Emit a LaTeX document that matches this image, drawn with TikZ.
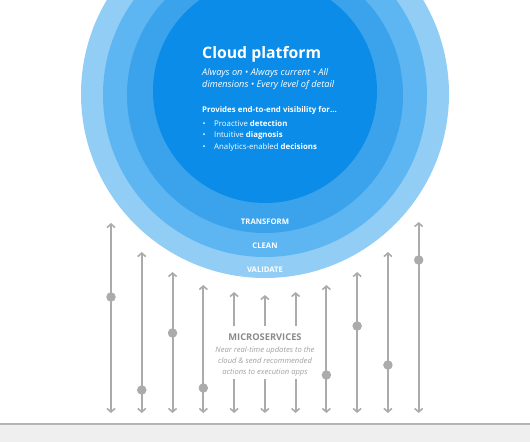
\documentclass[tikz,border=0pt]{standalone}
\usepackage{fontspec}
\setmainfont{Open Sans}
\usetikzlibrary{arrows.meta}
\definecolor{ringA}{HTML}{92CDF6}
\definecolor{ringB}{HTML}{5DB5F1}
\definecolor{ringC}{HTML}{3AA3EC}
\definecolor{core}{HTML}{0A8CE8}
\definecolor{linegray}{HTML}{ABABAB}
\definecolor{msgray}{HTML}{8A8A8A}
\definecolor{msitalic}{HTML}{A0A0A0}
\definecolor{floorgray}{HTML}{EFEFEF}
\definecolor{floorline}{HTML}{B4B4B4}
\tikzset{
  flow/.style={draw=linegray, line width=2pt, {Straight Barb[length=3.5pt,width=8pt,line width=1.6pt]}-{Straight Barb[length=3.5pt,width=8pt,line width=1.6pt]}},
  upflow/.style={draw=linegray, line width=2pt, -{Straight Barb[length=3.5pt,width=8pt,line width=1.6pt]}},
  dot/.style={circle, fill=linegray, inner sep=0pt, minimum size=9.5pt},
  whitetxt/.style={text=white, inner sep=0pt},
  ringlbl/.style={text=white, inner sep=0pt, font=\fontsize{7.7}{9}\selectfont\bfseries},
}
\begin{document}
\begin{tikzpicture}[x=1pt,y=-1pt]
\useasboundingbox (0,0) rectangle (530,442);
\clip (0,0) rectangle (530,442);
% floor
\fill[floorgray] (0,424) rectangle (530,442);
\draw[floorline, line width=1.5pt] (0,424) -- (530,424);
% rings
\fill[ringA] (265,94) circle (184);
\fill[ringB] (265,95) circle (162);
\fill[ringC] (265,95) circle (138);
\fill[core] (265,91) circle (112);
% texts
\node[whitetxt, anchor=base west, font=\fontsize{15.8}{18}\selectfont\bfseries] (title) at (202,58) {Cloud platform};
\node[whitetxt, anchor=base west, font=\fontsize{9.2}{11}\selectfont\itshape] (sub1) at (202,75) {Always on • Always current • All};
\node[whitetxt, anchor=base west, font=\fontsize{9.2}{11}\selectfont\itshape] (sub2) at (202,87) {dimensions • Every level of detail};
\node[whitetxt, anchor=base west, font=\fontsize{7.9}{10}\selectfont\bfseries] (prov) at (202,112) {Provides end-to-end visibility for...};
\foreach \yy/\txt [count=\i] in {126/Proactive \textbf{detection},137.5/Intuitive \textbf{diagnosis},149/Analytics-enabled \textbf{decisions}}{
  \node[whitetxt, anchor=base west, font=\fontsize{7.85}{10}\selectfont] (bul\i) at (202.5,\yy) {•};
  \node[whitetxt, anchor=base west, font=\fontsize{7.85}{10}\selectfont] (bt\i) at (214,\yy) {\txt};
}
\node[ringlbl, anchor=base] (tr) at (265,224.5) {TRANSFORM};
\node[ringlbl, anchor=base] (cl) at (265,248.5) {CLEAN};
\node[ringlbl, anchor=base] (va) at (265,272.5) {VALIDATE};
% microservices
\node[text=msgray, anchor=base, inner sep=0pt, font=\fontsize{9.3}{11}\selectfont\bfseries] (ms) at (265,340) {MICROSERVICES};
\node[text=msitalic, anchor=base, inner sep=0pt, font=\fontsize{7.6}{9}\selectfont\itshape] (ms1) at (265,352.5) {Near real-time updates to the};
\node[text=msitalic, anchor=base, inner sep=0pt, font=\fontsize{7.6}{9}\selectfont\itshape] (ms2) at (265,363.5) {cloud \& send recommended};
\node[text=msitalic, anchor=base, inner sep=0pt, font=\fontsize{7.6}{9}\selectfont\itshape] (ms3) at (265,374.5) {actions to execution apps};
% flow lines
\foreach \i/\top in {0/223,1/252,2/272,3/285,7/285,8/272,9/252,10/222}{
  \coordinate (t\i) at ({111+30.77*\i},\top);
  \coordinate (b\i) at ({111+30.77*\i},413);
  \draw[flow] (b\i) -- (t\i);
}
\foreach \i/\top in {4/292,5/295,6/292}{
  \coordinate (t\i) at ({111+30.77*\i},\top);
  \coordinate (m\i) at ({111+30.77*\i},326);
  \coordinate (n\i) at ({111+30.77*\i},379);
  \coordinate (b\i) at ({111+30.77*\i},413);
  \draw[upflow] (m\i) -- (t\i);
  \draw[upflow] (n\i) -- (b\i);
}
\foreach \i/\dy in {0/297,1/390,2/333,3/388,7/375,8/326,9/365,10/260}{
  \node[dot] (d\i) at ({111+30.77*\i},\dy) {};
}
\end{tikzpicture}
\end{document}
